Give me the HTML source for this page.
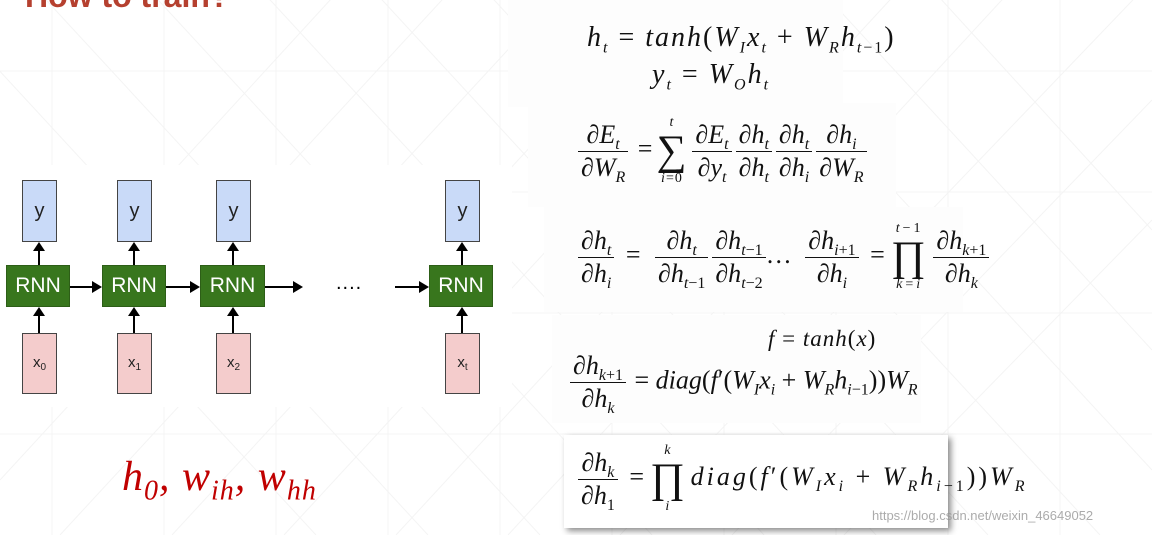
<!DOCTYPE html>
<html><head><meta charset="utf-8"><style>
body{margin:0;width:1152px;height:535px;overflow:hidden;background:#fff;position:relative;font-family:"Liberation Serif",serif}
.p{position:absolute;background:#fdfdfd}
.m{position:absolute;font-family:"Liberation Serif",serif;font-style:italic;font-size:26px;color:#111;white-space:nowrap;line-height:1;letter-spacing:1px}
.m .r{font-style:normal}
sub,sup{font-size:16px;line-height:0}
.fr{display:inline-flex;flex-direction:column;vertical-align:middle;text-align:center;margin:0 2px;letter-spacing:0}
.fr>span{padding:1px 3px;line-height:1.15}
.fr>span:first-child{border-bottom:1.6px solid #111}
.op{display:inline-flex;flex-direction:column;vertical-align:middle;align-items:center;margin:0 3px}
.op .b{font-style:normal;font-size:42px;line-height:1}
.op .s{font-size:14px;line-height:1}
.box{position:absolute;border:1px solid #444;box-sizing:border-box;font-family:"Liberation Sans",sans-serif;display:flex;align-items:center;justify-content:center;color:#222}
.box sub{font-size:10px;line-height:1;vertical-align:-3px}
.y{background:#c9daf8;font-size:20px}
.x{background:#f4cccc;font-size:15px}
.rnn{background:#38761d;color:#fff;font-size:21px;border-color:#2d5e17}
.v{position:absolute;width:2px;background:#000}
.h{position:absolute;height:2px;background:#000}
.au{position:absolute;width:0;height:0;border-left:6px solid transparent;border-right:6px solid transparent;border-bottom:9px solid #000}
.ar{position:absolute;width:0;height:0;border-top:6px solid transparent;border-bottom:6px solid transparent;border-left:10px solid #000}
</style></head><body>
<svg width="1152" height="535" style="position:absolute;left:0;top:0" stroke="#f4f4f4" stroke-width="1" fill="none">
<path d="M52 0V535M164 0V535M276 0V535M388 0V535M500 0V535M612 0V535M724 0V535M836 0V535M948 0V535M1060 0V535M0 71H1152M0 192H1152M0 313H1152M0 434H1152"/>
<path d="M0 -50L540 535M112 -50L652 535M224 -50L764 535M336 -50L876 535M448 -50L988 535M560 -50L1100 535M-112 -50L428 535M-224 -50L316 535M672 -50L1152 470M784 -50L1152 350M896 -50L1152 230
M600 -50L60 535M712 -50L172 535M824 -50L284 535M936 -50L396 535M1048 -50L508 535M1152 -20L620 535M488 -50L0 480M376 -50L0 360M1152 100L732 535M1152 220L844 535"/>
</svg>
<div style="position:absolute;left:25px;top:-22px;font-family:'Liberation Sans',sans-serif;font-weight:bold;font-size:32px;color:#b5402f">How to train?</div>

<div class="p" style="left:0;top:165px;width:512px;height:242px;background:#fff"></div>
<div class="box y" style="left:22px;top:180px;width:35px;height:62px">y</div>
<div class="box y" style="left:117px;top:180px;width:35px;height:62px">y</div>
<div class="box y" style="left:216px;top:180px;width:35px;height:62px">y</div>
<div class="box y" style="left:445px;top:180px;width:35px;height:62px">y</div>
<div class="box rnn" style="left:6px;top:265px;width:64px;height:42px">RNN</div>
<div class="box rnn" style="left:102px;top:265px;width:64px;height:42px">RNN</div>
<div class="box rnn" style="left:200px;top:265px;width:65px;height:42px">RNN</div>
<div class="box rnn" style="left:429px;top:265px;width:64px;height:42px">RNN</div>
<div class="box x" style="left:22px;top:333px;width:35px;height:61px"><span>x<sub>0</sub></span></div>
<div class="box x" style="left:117px;top:333px;width:35px;height:61px"><span>x<sub>1</sub></span></div>
<div class="box x" style="left:216px;top:333px;width:35px;height:61px"><span>x<sub>2</sub></span></div>
<div class="box x" style="left:445px;top:333px;width:35px;height:61px"><span>x<sub>t</sub></span></div>
<div class="v" style="left:38px;top:250px;height:15px"></div><div class="au" style="left:33px;top:242px"></div>
<div class="v" style="left:133px;top:250px;height:15px"></div><div class="au" style="left:128px;top:242px"></div>
<div class="v" style="left:232px;top:250px;height:15px"></div><div class="au" style="left:227px;top:242px"></div>
<div class="v" style="left:461px;top:250px;height:15px"></div><div class="au" style="left:456px;top:242px"></div>
<div class="v" style="left:38px;top:316px;height:17px"></div><div class="au" style="left:33px;top:307px"></div>
<div class="v" style="left:133px;top:316px;height:17px"></div><div class="au" style="left:128px;top:307px"></div>
<div class="v" style="left:232px;top:316px;height:17px"></div><div class="au" style="left:227px;top:307px"></div>
<div class="v" style="left:461px;top:316px;height:17px"></div><div class="au" style="left:456px;top:307px"></div>
<div class="h" style="left:70px;top:286px;width:24px"></div><div class="ar" style="left:92px;top:281px"></div>
<div class="h" style="left:166px;top:286px;width:26px"></div><div class="ar" style="left:190px;top:281px"></div>
<div class="h" style="left:265px;top:286px;width:30px"></div><div class="ar" style="left:293px;top:281px"></div>
<div class="h" style="left:395px;top:286px;width:26px"></div><div class="ar" style="left:419px;top:281px"></div>
<div style="position:absolute;left:336px;top:272px;font-family:'Liberation Sans',sans-serif;font-size:20px;letter-spacing:1px">....</div>

<div style="position:absolute;left:122px;top:452px;font-family:'Liberation Serif',serif;font-style:italic;font-size:42px;letter-spacing:1px;color:#c00000;white-space:nowrap;line-height:1.2">h<sub style="font-size:28px">0</sub>, w<sub style="font-size:28px">ih</sub>, w<sub style="font-size:28px">hh</sub></div>

<div class="p" style="left:508px;top:0;width:335px;height:107px"></div>
<div class="p" style="left:528px;top:103px;width:368px;height:104px"></div>
<div class="p" style="left:544px;top:207px;width:419px;height:105px"></div>
<div class="p" style="left:552px;top:315px;width:369px;height:108px"></div>
<div class="p" style="left:564px;top:435px;width:384px;height:93px;background:#fff;box-shadow:3px 3px 6px rgba(0,0,0,.45)"></div>

<div class="m" style="left:587px;top:24px;font-size:28px;letter-spacing:2px">h<sub>t</sub> <span class="r">=</span> tanh<span class="r">(</span>W<sub>I</sub>x<sub>t</sub> <span class="r">+</span> W<sub>R</sub>h<sub>t<span class="r">−1</span></sub><span class="r">)</span></div>
<div class="m" style="left:652px;top:61px;font-size:28px;letter-spacing:2px">y<sub>t</sub> <span class="r">=</span> W<sub>O</sub>h<sub>t</sub></div>

<div class="m" style="left:576px;top:116px"><span class="fr"><span>∂E<sub>t</sub></span><span>∂W<sub>R</sub></span></span> <span class="r">=</span><span class="op"><span class="s">t</span><span class="b">∑</span><span class="s">i<span class="r">=0</span></span></span><span class="fr"><span>∂E<sub>t</sub></span><span>∂y<sub>t</sub></span></span><span class="fr"><span>∂h<sub>t</sub></span><span>∂h<sub>t</sub></span></span><span class="fr"><span>∂h<sub>t</sub></span><span>∂h<sub>i</sub></span></span><span class="fr"><span>∂h<sub>i</sub></span><span>∂W<sub>R</sub></span></span></div>

<div class="m" style="left:576px;top:222px;letter-spacing:3px"><span class="fr"><span>∂h<sub>t</sub></span><span>∂h<sub>i</sub></span></span> <span class="r">=</span> <span class="fr"><span>∂h<sub>t</sub></span><span>∂h<sub>t<span class="r">−1</span></sub></span></span><span class="fr"><span>∂h<sub>t<span class="r">−1</span></sub></span><span>∂h<sub>t<span class="r">−2</span></sub></span></span>… <span class="fr"><span>∂h<sub>i<span class="r">+1</span></sub></span><span>∂h<sub>i</sub></span></span> <span class="r">=</span><span class="op"><span class="s">t<span class="r">−1</span></span><span class="b">∏</span><span class="s">k<span class="r">=</span>i</span></span><span class="fr"><span>∂h<sub>k<span class="r">+1</span></sub></span><span>∂h<sub>k</sub></span></span></div>

<div class="m" style="left:768px;top:327px;font-size:23px">f <span class="r">=</span> tanh<span class="r">(</span>x<span class="r">)</span></div>
<div class="m" style="left:568px;top:350px;letter-spacing:0"><span class="fr"><span>∂h<sub>k<span class="r">+1</span></sub></span><span>∂h<sub>k</sub></span></span> <span class="r">=</span> diag<span class="r">(</span>f<span class="r">′(</span>W<sub>I</sub>x<sub>i</sub> <span class="r">+</span> W<sub>R</sub>h<sub>i<span class="r">−1</span></sub><span class="r">))</span>W<sub>R</sub></div>

<div class="m" style="left:576px;top:444px;letter-spacing:3px"><span class="fr"><span>∂h<sub>k</sub></span><span>∂h<sub class="r">1</sub></span></span> <span class="r">=</span><span class="op"><span class="s">k</span><span class="b">∏</span><span class="s">i</span></span>diag<span class="r">(</span>f<span class="r">′(</span>W<sub>I</sub>x<sub>i</sub> <span class="r">+</span> W<sub>R</sub>h<sub>i<span class="r">−1</span></sub><span class="r">))</span>W<sub>R</sub></div>

<div style="position:absolute;left:872px;top:508px;font-family:'Liberation Sans',sans-serif;font-size:13px;color:rgba(150,150,150,.8)">https://blog.csdn.net/weixin_46649052</div>
</body></html>
